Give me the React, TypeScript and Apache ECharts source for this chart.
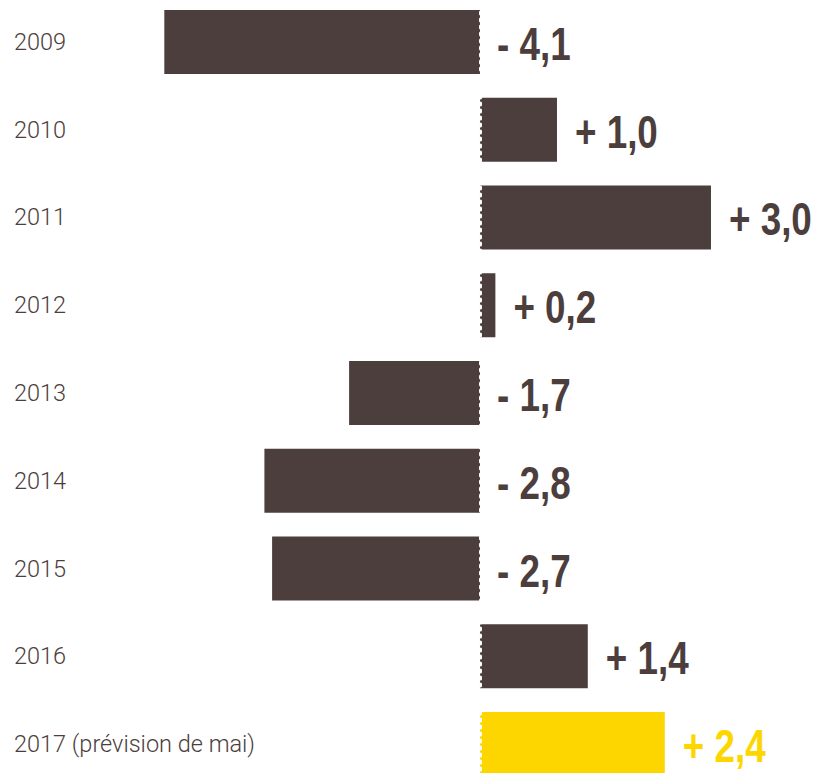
import React, { useEffect, useRef } from "react";
import * as echarts from "echarts";

const categories = ["2009", "2010", "2011", "2012", "2013", "2014", "2015", "2016", "2017 (prévision de mai)"];
const values = [-4.1, 1.0, 3.0, 0.2, -1.7, -2.8, -2.7, 1.4, 2.4];
const highlightIndex = 8;

const BROWN = "#4b3e3c";
const YELLOW = "#fdd600";

function fmt(v: number): string {
  const s = Math.abs(v).toFixed(1).replace(".", ",");
  return (v < 0 ? "- " : "+ ") + s;
}

export default function App() {
  const ref = useRef<HTMLDivElement>(null);
  useEffect(() => {
    if (!ref.current) return;
    const chart = echarts.init(ref.current, null, { renderer: "svg" });
    chart.setOption({
      animation: false,
      grid: { left: 0, right: 0, top: 0, bottom: 0, containLabel: false },
      xAxis: {
        type: "value",
        min: -6.234,
        max: 4.39,
        show: false,
      },
      yAxis: {
        type: "category",
        data: categories,
        inverse: true,
        axisLine: { show: false },
        axisTick: { show: false },
        splitLine: { show: false },
        axisLabel: {
          inside: true,
          margin: 14,
          color: BROWN,
          fontFamily: "Roboto, 'Liberation Sans', sans-serif",
          fontWeight: 300,
          fontSize: 23.5,
        },
      },
      series: [
        {
          type: "bar",
          barWidth: 64,
          data: values.map((v, i) => ({
            value: v,
            itemStyle: { color: i === highlightIndex ? YELLOW : BROWN },
          })),
          markLine: {
            silent: true,
            symbol: "none",
            label: { show: false },
            lineStyle: { color: "#ffffff", width: 3, type: [2, 5], cap: "round", opacity: 1 },
            data: [{ xAxis: 0 }],
          },
          z: 2,
        },
        {
          type: "custom",
          silent: true,
          data: values.map((v, i) => [v, i]),
          encode: { x: 0, y: 1 },
          renderItem: (params: any, api: any) => {
            const v = api.value(0) as number;
            const idx = api.value(1) as number;
            const pt = api.coord([v > 0 ? v : 0, idx]);
            return {
              type: "text",
              x: pt[0] + (v > 0 ? 18 : 17),
              y: pt[1] + 2,
              scaleX: 0.8,
              style: {
                text: fmt(v),
                fill: idx === highlightIndex ? YELLOW : BROWN,
                font: "bold 46px 'Liberation Sans', Arial, sans-serif",
                align: "left",
                verticalAlign: "middle",
              },
            };
          },
          z: 3,
        },
      ],
    });
    return () => chart.dispose();
  }, []);
  return (
    <div
      ref={ref}
      style={{ position: "fixed", left: 0, top: -2, width: 818, height: 790, background: "#ffffff" }}
    />
  );
}
